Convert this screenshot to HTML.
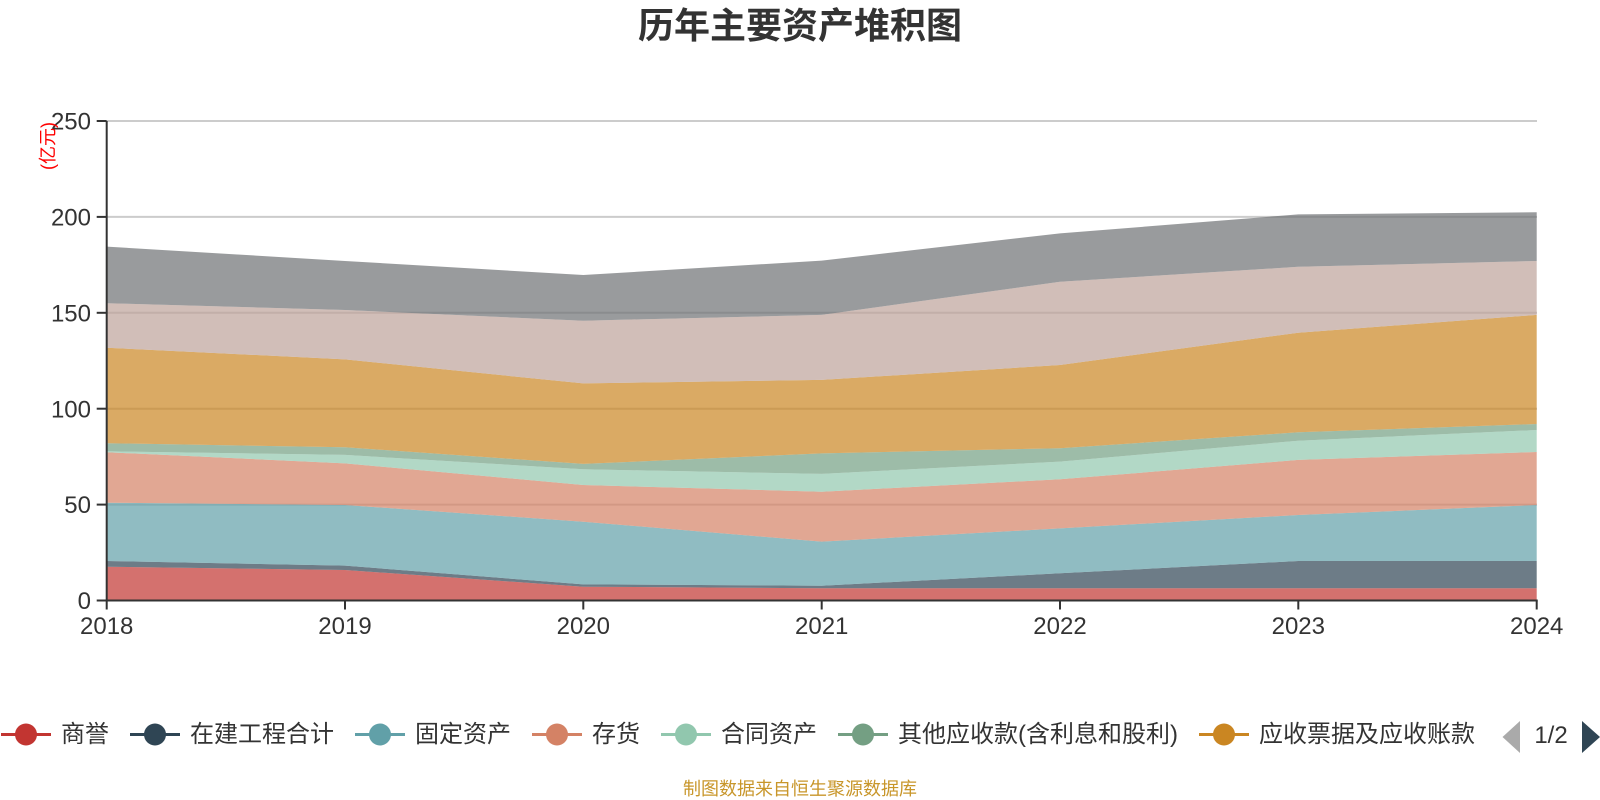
<!DOCTYPE html>
<html>
<head>
<meta charset="utf-8">
<style>
  html,body{margin:0;padding:0;background:#fff;}
  body{width:1600px;height:800px;overflow:hidden;}
  svg{display:block;}
  .cjk{font-family:"Liberation Sans","Noto Sans CJK SC","WenQuanYi Zen Hei",sans-serif;}
</style>
</head>
<body>
<svg width="1600" height="800" viewBox="0 0 1600 800" xmlns="http://www.w3.org/2000/svg">
  <rect x="0" y="0" width="1600" height="800" fill="#fff"/>

  <!-- Title -->
  <text x="800" y="38" text-anchor="middle" class="cjk" font-size="36" font-weight="bold" fill="#333">历年主要资产堆积图</text>

  <!-- Gridlines -->
  <g stroke="#cccccc" stroke-width="2">
    <line x1="107" y1="121" x2="1537" y2="121"/>
    <line x1="107" y1="216.9" x2="1537" y2="216.9"/>
    <line x1="107" y1="312.8" x2="1537" y2="312.8"/>
    <line x1="107" y1="408.7" x2="1537" y2="408.7"/>
    <line x1="107" y1="504.6" x2="1537" y2="504.6"/>
  </g>

  <!-- Stacked areas -->
  <g fill-opacity="0.7" stroke="none">
    <polygon fill="#c23531" points="106.7,566.7 345,570 583.3,586.7 821.7,588.2 1060,588.2 1298.3,588.2 1536.7,588.2 1536.7,600.5 106.7,600.5"/>
    <polygon fill="#2f4554" points="106.7,561 345,565.6 583.3,584.4 821.7,585.7 1060,573.3 1298.3,561 1536.7,561 1536.7,588.2 1298.3,588.2 1060,588.2 821.7,588.2 583.3,586.7 345,570 106.7,566.7"/>
    <polygon fill="#61a0a8" points="106.7,502.7 345,505 583.3,521.7 821.7,541.6 1060,528.4 1298.3,515 1536.7,505 1536.7,561 1298.3,561 1060,573.3 821.7,585.7 583.3,584.4 345,565.6 106.7,561"/>
    <polygon fill="#d48265" points="106.7,452.2 345,463.4 583.3,485 821.7,491.7 1060,479.3 1298.3,459.9 1536.7,452 1536.7,505 1298.3,515 1060,528.4 821.7,541.6 583.3,521.7 345,505 106.7,502.7"/>
    <polygon fill="#91c7ae" points="106.7,451.3 345,454.9 583.3,469.3 821.7,473.9 1060,461.6 1298.3,440.7 1536.7,430 1536.7,452 1298.3,459.9 1060,479.3 821.7,491.7 583.3,485 345,463.4 106.7,452.2"/>
    <polygon fill="#749f83" points="106.7,443.2 345,447.3 583.3,463.9 821.7,453.4 1060,448.2 1298.3,432.3 1536.7,424 1536.7,430 1298.3,440.7 1060,461.6 821.7,473.9 583.3,469.3 345,454.9 106.7,451.3"/>
    <polygon fill="#ca8622" points="106.7,347.7 345,359.4 583.3,383.4 821.7,379.9 1060,365 1298.3,332.7 1536.7,314.9 1536.7,424 1298.3,432.3 1060,448.2 821.7,453.4 583.3,463.9 345,447.3 106.7,443.2"/>
    <polygon fill="#bda29a" points="106.7,303.2 345,310 583.3,320.7 821.7,314.9 1060,281.7 1298.3,266.8 1536.7,261 1536.7,314.9 1298.3,332.7 1060,365 821.7,379.9 583.3,383.4 345,359.4 106.7,347.7"/>
    <polygon fill="#6e7074" points="106.7,246.6 345,261 583.3,275 821.7,260.6 1060,233.4 1298.3,214.4 1536.7,212.3 1536.7,261 1298.3,266.8 1060,281.7 821.7,314.9 583.3,320.7 345,310 106.7,303.2"/>
  </g>

  <!-- Axes -->
  <g stroke="#333" stroke-width="2">
    <line x1="106.7" y1="121" x2="106.7" y2="601.5"/>
    <line x1="105.7" y1="600.5" x2="1537.7" y2="600.5"/>
    <line x1="96.7" y1="121" x2="106.7" y2="121"/>
    <line x1="96.7" y1="216.9" x2="106.7" y2="216.9"/>
    <line x1="96.7" y1="312.8" x2="106.7" y2="312.8"/>
    <line x1="96.7" y1="408.7" x2="106.7" y2="408.7"/>
    <line x1="96.7" y1="504.6" x2="106.7" y2="504.6"/>
    <line x1="96.7" y1="600.5" x2="106.7" y2="600.5"/>
    <line x1="106.7" y1="600.5" x2="106.7" y2="609.5"/>
    <line x1="345" y1="600.5" x2="345" y2="609.5"/>
    <line x1="583.3" y1="600.5" x2="583.3" y2="609.5"/>
    <line x1="821.7" y1="600.5" x2="821.7" y2="609.5"/>
    <line x1="1060" y1="600.5" x2="1060" y2="609.5"/>
    <line x1="1298.3" y1="600.5" x2="1298.3" y2="609.5"/>
    <line x1="1536.7" y1="600.5" x2="1536.7" y2="609.5"/>
  </g>

  <!-- Y labels -->
  <g font-family="Liberation Sans, sans-serif" font-size="24" fill="#333" text-anchor="end">
    <text x="91" y="129.6">250</text>
    <text x="91" y="225.5">200</text>
    <text x="91" y="321.4">150</text>
    <text x="91" y="417.3">100</text>
    <text x="91" y="513.2">50</text>
    <text x="91" y="609.1">0</text>
  </g>

  <!-- Y axis name -->
  <text transform="translate(48,146) rotate(-90)" text-anchor="middle" dominant-baseline="central" class="cjk" font-size="18" fill="#ff0000">(亿元)</text>

  <!-- X labels -->
  <g font-family="Liberation Sans, sans-serif" font-size="24" fill="#333" text-anchor="middle">
    <text x="106.7" y="634">2018</text>
    <text x="345" y="634">2019</text>
    <text x="583.3" y="634">2020</text>
    <text x="821.7" y="634">2021</text>
    <text x="1060" y="634">2022</text>
    <text x="1298.3" y="634">2023</text>
    <text x="1536.7" y="634">2024</text>
  </g>

  <!-- Legend -->
  <g stroke-width="3">
    <line x1="1" y1="734.5" x2="51" y2="734.5" stroke="#c23531"/>
    <circle cx="26" cy="734.5" r="11" fill="#c23531"/>
    <line x1="130" y1="734.5" x2="180" y2="734.5" stroke="#2f4554"/>
    <circle cx="155" cy="734.5" r="11" fill="#2f4554"/>
    <line x1="355" y1="734.5" x2="405" y2="734.5" stroke="#61a0a8"/>
    <circle cx="380" cy="734.5" r="11" fill="#61a0a8"/>
    <line x1="532" y1="734.5" x2="582" y2="734.5" stroke="#d48265"/>
    <circle cx="557" cy="734.5" r="11" fill="#d48265"/>
    <line x1="661" y1="734.5" x2="711" y2="734.5" stroke="#91c7ae"/>
    <circle cx="686" cy="734.5" r="11" fill="#91c7ae"/>
    <line x1="838" y1="734.5" x2="888" y2="734.5" stroke="#749f83"/>
    <circle cx="863" cy="734.5" r="11" fill="#749f83"/>
    <line x1="1199" y1="734.5" x2="1249" y2="734.5" stroke="#ca8622"/>
    <circle cx="1224" cy="734.5" r="11" fill="#ca8622"/>
  </g>
  <g class="cjk" font-size="24" fill="#333">
    <text x="61" y="742">商誉</text>
    <text x="190" y="742">在建工程合计</text>
    <text x="415" y="742">固定资产</text>
    <text x="592" y="742">存货</text>
    <text x="721" y="742">合同资产</text>
    <text x="898" y="742">其他应收款(含利息和股利)</text>
    <text x="1259" y="742">应收票据及应收账款</text>
  </g>
  <!-- Pager -->
  <polygon points="1520,721 1520,753 1502.5,737" fill="#aaaaaa"/>
  <text x="1551" y="743" text-anchor="middle" font-family="Liberation Sans, sans-serif" font-size="24" fill="#333">1/2</text>
  <polygon points="1582,721 1582,753 1600,737" fill="#2f4554"/>

  <!-- Footer -->
  <text x="800" y="795" text-anchor="middle" class="cjk" font-size="18" fill="#c8962a">制图数据来自恒生聚源数据库</text>
</svg>
</body>
</html>
